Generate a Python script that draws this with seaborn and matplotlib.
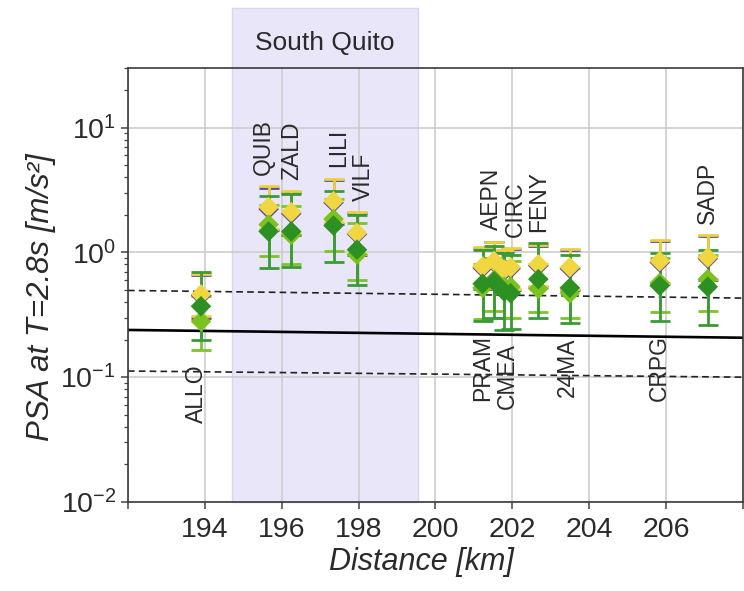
import numpy as np
import pandas as pd
import matplotlib
matplotlib.use("Agg")
import matplotlib.pyplot as plt
import seaborn as sns
from matplotlib.patches import Rectangle
from matplotlib.ticker import LogLocator, NullFormatter

# ---------------- data ----------------
stations = ["ALLO", "QUIB", "ZALD", "LILI", "VILF", "PRAM", "AEPN",
            "CMEA", "CIRC", "FENY", "24MA", "CRPG", "SADP"]
distance_km = [193.9, 195.66, 196.25, 197.35, 197.96, 201.23, 201.53,
               201.79, 201.96, 202.68, 203.5, 205.84, 207.09]
label_side = ["below", "above", "above", "above", "above", "below", "above",
              "below", "above", "above", "below", "below", "above"]

# series 1 (purple, mostly hidden below yellow)
psa_purple = [0.45, 2.22, 2.04, 2.50, 1.40, 0.75, 0.83, 0.71, 0.74, 0.78, 0.74, 0.83, 0.89]
lo_purple = [0.30, 1.50, 1.38, 1.70, 0.95, 0.51, 0.56, 0.48, 0.50, 0.53, 0.50, 0.56, 0.60]
hi_purple = [0.655, 3.30, 3.04, 3.80, 2.07, 1.08, 1.20, 1.03, 1.06, 1.13, 1.04, 1.24, 1.35]
# series 2 (yellow)
psa_yellow = [0.46, 2.30, 2.10, 2.57, 1.43, 0.77, 0.85, 0.73, 0.76, 0.80, 0.76, 0.85, 0.91]
lo_yellow = [0.31, 1.55, 1.42, 1.75, 0.97, 0.52, 0.57, 0.49, 0.51, 0.54, 0.51, 0.57, 0.61]
hi_yellow = [0.67, 3.40, 3.10, 3.90, 2.12, 1.10, 1.22, 1.05, 1.08, 1.15, 1.07, 1.26, 1.38]
# series 3 (light green)
psa_lgreen = [0.28, 1.67, 1.38, 1.85, 0.96, 0.52, 0.60, 0.53, 0.53, 0.51, 0.47, 0.57, 0.61]
lo_lgreen = [0.165, 0.93, 0.81, 1.02, 0.60, 0.29, 0.34, 0.30, 0.30, 0.33, 0.30, 0.33, 0.34]
hi_lgreen = [0.45, 2.40, 2.34, 2.70, 1.72, 0.80, 0.90, 0.85, 0.85, 0.80, 0.75, 0.90, 0.95]
# series 4 (dark green)
psa_dgreen = [0.37, 1.47, 1.47, 1.64, 1.05, 0.56, 0.585, 0.486, 0.47, 0.61, 0.52, 0.54, 0.53]
lo_dgreen = [0.20, 0.75, 0.77, 0.84, 0.55, 0.28, 0.30, 0.24, 0.245, 0.30, 0.27, 0.28, 0.26]
hi_dgreen = [0.70, 2.82, 2.95, 3.09, 2.00, 1.05, 1.12, 0.98, 0.95, 1.19, 0.96, 0.99, 1.04]

# prediction (median and +/- one sigma)
gmpe_distance = [192.0, 208.0]
gmpe_median = [0.239, 0.207]
gmpe_upper = [0.495, 0.43]
gmpe_lower = [0.112, 0.100]

south_quito = [194.71, 199.54]
xtick_values = [192, 194, 196, 198, 200, 202, 204, 206, 208]
xtick_labels = ["", "194", "196", "198", "200", "202", "204", "206", ""]

# ---------------- style ----------------
series_names = ["purple", "yellow", "lgreen", "dgreen"]
palette = {"purple": "#5E4C9C", "yellow": "#F0D640",
           "lgreen": "#7CC21E", "dgreen": "#2C9023"}
bar_colors = {"purple": "#5E4C9C", "yellow": "#EBD13E",
              "lgreen": "#7CC42A", "dgreen": "#3A9A38"}
# small horizontal nudges of the station labels (points)
label_nudge = {"ALLO": -3, "QUIB": -4, "LILI": 3.5, "VILF": 4.5, "AEPN": -2,
               "CMEA": 2, "CIRC": 3.5, "24MA": -1.5}

values = {"purple": (psa_purple, lo_purple, hi_purple),
          "yellow": (psa_yellow, lo_yellow, hi_yellow),
          "lgreen": (psa_lgreen, lo_lgreen, hi_lgreen),
          "dgreen": (psa_dgreen, lo_dgreen, hi_dgreen)}

rows = []
for s in series_names:
    v, lo, hi = values[s]
    for st, d, vv, l, h in zip(stations, distance_km, v, lo, hi):
        rows.append(dict(station=st, distance=d, series=s, psa=vv, lo=l, hi=h))
df = pd.DataFrame(rows)

gm = pd.DataFrame({"distance": gmpe_distance * 3,
                   "psa": gmpe_median + gmpe_upper + gmpe_lower,
                   "curve": ["median"] * 2 + ["upper"] * 2 + ["lower"] * 2})

sns.set_style("ticks")
plt.rcParams["font.family"] = ["Liberation Sans", "DejaVu Sans"]
plt.rcParams["mathtext.fontset"] = "custom"
plt.rcParams["mathtext.rm"] = "Liberation Sans"
plt.rcParams["mathtext.it"] = "Liberation Sans:italic"
plt.rcParams["mathtext.bf"] = "Liberation Sans:bold"
text_color = "#2a2a2a"

fig = plt.figure(figsize=(7.44, 5.91), dpi=100)
ax = fig.add_axes([0.172, 0.1506, 0.8263, 0.7344])
ax.set_axisbelow(True)

# shaded region (extends above the axes)
ax.add_patch(Rectangle((south_quito[0], 0), south_quito[1] - south_quito[0], 1.138,
                       transform=ax.get_xaxis_transform(), facecolor="#E9E6F9",
                       edgecolor="#DAD6F0", lw=1.0, clip_on=False, zorder=0.2))
ax.text(np.mean(south_quito), 1.058, "South Quito", transform=ax.get_xaxis_transform(),
        ha="center", va="center", fontsize=19, color=text_color)

# prediction lines
sns.lineplot(data=gm[gm.curve == "median"], x="distance", y="psa", color="black",
             lw=1.9, ax=ax, zorder=2)
for c in ["upper", "lower"]:
    sns.lineplot(data=gm[gm.curve == c], x="distance", y="psa", color="#222222",
                 lw=1.2, ax=ax, zorder=2, dashes=False, linestyle=(0, (4, 2.5)))

# error bars
for s in series_names:
    d = df[df.series == s]
    ax.errorbar(d.distance, d.psa, yerr=[d.psa - d.lo, d.hi - d.psa], fmt="none",
                ecolor=bar_colors[s], elinewidth=2.0, capsize=7, capthick=2.0, zorder=3)

# markers
sns.scatterplot(data=df, x="distance", y="psa", hue="series", palette=palette,
                marker="D", s=110, edgecolor="none", linewidth=0, legend=False,
                ax=ax, zorder=4)

# station labels
top = df.groupby("station", sort=False).hi.max()
bot = df.groupby("station", sort=False).lo.min()
for st, d, side in zip(stations, distance_km, label_side):
    dx = label_nudge.get(st, 0)
    if side == "above":
        ax.annotate(st, xy=(d, top[st]), xytext=(dx, 8), textcoords="offset points",
                    rotation=90, ha="center", va="bottom", fontsize=16.5,
                    color=text_color, zorder=5)
    else:
        ax.annotate(st, xy=(d, bot[st]), xytext=(dx, -10), textcoords="offset points",
                    rotation=90, ha="center", va="top", fontsize=16.5,
                    color=text_color, zorder=5)

# axes
ax.set_yscale("log")
ax.set_xlim(192, 208)
ax.set_ylim(0.01, 30)
ax.set_xticks(xtick_values)
ax.set_xticklabels(xtick_labels)
ax.yaxis.set_major_locator(LogLocator(base=10, numticks=10))
ax.yaxis.set_minor_locator(LogLocator(base=10, subs=np.arange(2, 10), numticks=20))
ax.yaxis.set_minor_formatter(NullFormatter())
ax.grid(True, which="major", color="#cdcdcd", lw=1.2)
ax.tick_params(axis="both", which="major", direction="out", length=5, width=1.1,
               color="#444444", labelsize=20.5, labelcolor=text_color)
ax.tick_params(axis="x", which="major", pad=6)
ax.tick_params(axis="y", which="minor", direction="out", length=3, width=0.9,
               color="#444444")
for sp in ax.spines.values():
    sp.set_color("#3a3a3a")
    sp.set_linewidth(1.2)

ax.set_xlabel("Distance [km]", fontsize=22, style="italic", color=text_color, labelpad=1)
ax.xaxis.set_label_coords(0.477, -0.103)
ax.set_ylabel("PSA at T=2.8s [m/s²]", fontsize=22.5, style="italic", color=text_color,
              labelpad=3)
ax.yaxis.set_label_coords(-0.117, 0.472)

fig.savefig("out.png", dpi=100)
